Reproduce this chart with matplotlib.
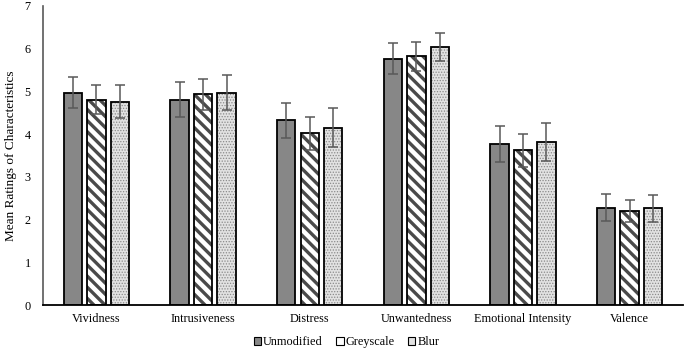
import numpy as np
import matplotlib.pyplot as plt
from matplotlib.patches import Patch

categories = ["Vividness", "Intrusiveness", "Distress", "Unwantedness",
              "Emotional Intensity", "Valence"]
conditions = ["Unmodified", "Greyscale", "Blur"]

unmodified = [4.97, 4.81, 4.32, 5.77, 3.76, 2.28]
greyscale = [4.80, 4.93, 4.02, 5.82, 3.62, 2.20]
blur = [4.76, 4.97, 4.15, 6.04, 3.82, 2.26]

unmodified_err = [0.36, 0.40, 0.42, 0.36, 0.42, 0.32]
greyscale_err = [0.34, 0.36, 0.38, 0.34, 0.39, 0.26]
blur_err = [0.38, 0.41, 0.46, 0.32, 0.45, 0.32]

plt.rcParams['font.family'] = ['Liberation Serif', 'DejaVu Serif']

fig = plt.figure(figsize=(6.85, 3.51), dpi=100)
ax = fig.add_axes([0.063, 0.131, 0.934, 0.852])

x = np.arange(len(categories))
width = 0.173
step = 0.22

styles = [
    dict(face="#878787", hatch=None, hcolor=None, hlw=1.0),
    dict(face="white", hatch="\\\\\\", hcolor="#4a4a4a", hlw=2.4),
    dict(face="#e2e2e2", hatch="......", hcolor="#8a8a8a", hlw=0.6),
]
values = [unmodified, greyscale, blur]
errors = [unmodified_err, greyscale_err, blur_err]

for i, (vals, errs, st) in enumerate(zip(values, errors, styles)):
    pos = x + (i - 1) * step
    # fill + hatch
    bars = ax.bar(pos, vals, width, color=st["face"], edgecolor=st["hcolor"] or st["face"],
                  linewidth=0, hatch=st["hatch"], zorder=2)
    for b in bars:
        try:
            b.set_hatch_linewidth(st["hlw"])
        except AttributeError:
            pass
    # outline
    ax.bar(pos, vals, width, fill=False, edgecolor="black", linewidth=1.3, zorder=3)
    ax.errorbar(pos, vals, yerr=errs, fmt="none", ecolor="#595959",
                elinewidth=1.1, capsize=3.5, capthick=1.1, zorder=4)

ax.set_xlim(-0.5, len(categories) - 0.5)
ax.set_ylim(0, 7)
ax.set_yticks(range(8))
ax.set_xticks(x, categories)
ax.tick_params(axis="both", length=0, labelsize=8.8)
ax.tick_params(axis="x", pad=6)
ax.tick_params(axis="y", pad=9)
for s in ["top", "right"]:
    ax.spines[s].set_visible(False)
ax.spines["left"].set_color("#595959")
ax.spines["left"].set_linewidth(1.2)
ax.spines["bottom"].set_color("black")
ax.spines["bottom"].set_linewidth(1.3)
ax.set_ylabel("Mean Ratings of Characteristics", fontsize=9.5, labelpad=5)

handles = []
for lab, st in zip(conditions, styles):
    handles.append(Patch(facecolor=st["face"], edgecolor="black", hatch=None,
                         linewidth=0.8, label=lab))
fig.legend(handles=handles, loc="center", bbox_to_anchor=(0.506, 0.025), ncol=3,
           frameon=False, fontsize=8.8, handlelength=0.6, handleheight=0.6,
           handletextpad=0.15, columnspacing=1.1, borderpad=0)

fig.savefig("out.png", dpi=100)
